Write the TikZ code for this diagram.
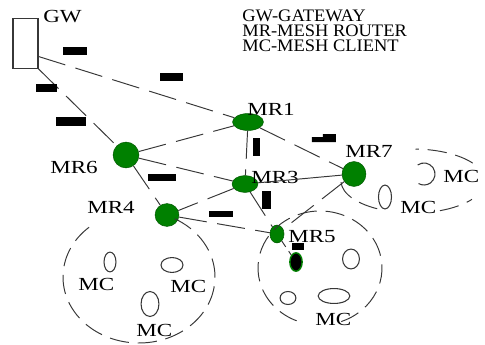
\documentclass[tikz,border=0pt]{standalone}
\usepackage{fontspec}
\setmainfont{Liberation Serif}
\newfontfamily\lblfont[FakeStretch=1.25]{Liberation Serif}
\newfontfamily\keyfont[FakeStretch=1.05]{Liberation Serif}
\usetikzlibrary{shapes.geometric}

\definecolor{mrgreen}{RGB}{0,128,0}
\definecolor{linegray}{RGB}{55,55,55}

\tikzset{
  router/.style={ellipse, fill=mrgreen, draw=mrgreen!70!black, line width=0.3pt, inner sep=0pt},
  client/.style={ellipse, draw=linegray, line width=0.6pt, inner sep=0pt},
  lbl/.style={anchor=base west, inner sep=0pt, font=\lblfont\fontsize{10.5}{12}\selectfont},
  legend/.style={anchor=base west, inner sep=0pt, font=\keyfont\fontsize{10}{12}\selectfont},
  link/.style={draw=linegray, line width=0.55pt, dash pattern=on 16pt off 6pt},
  cluster/.style={draw=linegray, line width=0.55pt, dash pattern=on 11pt off 5pt}
}

\begin{document}
\begin{tikzpicture}[x=0.02cm, y=0.02cm]
\useasboundingbox (0,0) rectangle (485,-345);

% gateway and routers
\node[rectangle, draw=linegray, line width=0.6pt, minimum width=14.2pt, minimum height=28.3pt, inner sep=0pt] (GW) at (25.5,-43.5) {};
\node[router, minimum width=17.6pt, minimum height=9.6pt] (MR1) at (248,-122) {};
\node[router, minimum width=14.7pt, minimum height=14.7pt] (MR6) at (126,-155) {};
\node[router, minimum width=14.7pt, minimum height=9.6pt] (MR3) at (245,-184) {};
\node[router, minimum width=13.6pt, minimum height=14.2pt] (MR7) at (354,-174) {};
\node[router, minimum width=13.6pt, minimum height=13pt] (MR4) at (167,-215) {};
\node[router, minimum width=8pt, minimum height=10.2pt] (MR5) at (277,-234) {};
\node[ellipse, fill=black, draw=mrgreen, line width=0.8pt, inner sep=0pt, minimum width=7pt, minimum height=10.5pt] (B) at (296,-262) {};

% clients
\node[client, minimum width=6.8pt, minimum height=11.3pt] (C1) at (110,-262) {};
\node[client, minimum width=12.5pt, minimum height=8.5pt] (C2) at (172,-265) {};
\node[client, minimum width=10.2pt, minimum height=14.2pt] (C3) at (150,-304) {};
\node[client, minimum width=9.6pt, minimum height=11.3pt] (C4) at (351,-259) {};
\node[client, minimum width=9pt, minimum height=7.4pt] (C5) at (288,-298) {};
\node[client, minimum width=18pt, minimum height=8.5pt] (C6) at (334,-296) {};
\node[client, minimum width=7.4pt, minimum height=13.6pt] (C7) at (385,-197) {};
\draw[draw=linegray, line width=0.6pt] (424,-174) ++(125:11) arc[start angle=125, end angle=-120, radius=11];

% labels
\node[lbl] (lGW) at (43,-22) {GW};
\node[lbl] (lMR1) at (247,-115) {MR1};
\node[lbl] (lMR6) at (50,-173) {MR6};
\node[lbl] (lMR3) at (251,-183) {MR3};
\node[lbl] (lMR7) at (345,-157) {MR7};
\node[lbl] (lMR4) at (87,-213) {MR4};
\node[lbl] (lMR5) at (288,-242) {MR5};
\node[lbl] (lC1) at (78,-290) {MC};
\node[lbl] (lC2) at (170,-293) {MC};
\node[lbl] (lC3) at (136,-337) {MC};
\node[lbl] (lC4) at (315,-325) {MC};
\node[lbl] (lC5) at (443,-182) {MC};
\node[lbl] (lC6) at (400,-213) {MC};

% legend
\node[legend] (key1) at (242,-21) {GW-GATEWAY};
\node[legend] (key2) at (242,-36) {MR-MESH ROUTER};
\node[legend] (key3) at (242,-51) {MC-MESH CLIENT};

% links
\draw[link] (GW.-45) -- (MR1);
\draw[link] (GW.south east) -- (MR6);
\draw[link] (MR6) -- (MR1);
\draw[link] (MR6) -- (MR3);
\draw[link] (MR6) -- (MR4);
\draw[link] (MR1) -- (MR3);
\draw[link] (MR1) -- (MR7);
\draw[draw=linegray, line width=0.55pt] (MR3) -- (MR7);
\draw[link] (MR3) -- (MR4);
\draw[link] (MR4) -- (MR5);
\draw[link] (MR3) -- (MR5);
\draw[link] (MR7) -- (MR5);
\draw[link, dash pattern=on 4pt off 3pt] (MR5) -- (B);

% clusters
\draw[cluster] (139,-277) ++(131:76 and 66) arc[start angle=131, end angle=428, x radius=76, y radius=66];
\draw[cluster] (320,-268) ++(-70:62 and 57) arc[start angle=-70, end angle=252, x radius=62, y radius=57];
\draw[cluster] (413,-181) ++(34:72 and 32) arc[start angle=34, end angle=88, x radius=72, y radius=32];
\draw[cluster] (413,-181) ++(-178:72 and 32) arc[start angle=-178, end angle=-115, x radius=72, y radius=32];
\draw[cluster] (413,-181) ++(-68:72 and 32) arc[start angle=-68, end angle=-35, x radius=72, y radius=32];

% black bars
\fill (63,-47) rectangle (87,-55);
\fill (160,-73) rectangle (183,-81);
\fill (36,-84) rectangle (57,-92);
\fill (56,-117) rectangle (86,-126);
\fill (253,-138) rectangle (260,-156);
\fill (148,-174) rectangle (176,-181);
\fill (209,-211) rectangle (233,-217);
\fill (262,-191) rectangle (271,-209);
\fill (292,-243) rectangle (304,-250);
\fill (312,-137) -- (323,-137) -- (323,-134) -- (336,-134) -- (336,-142) -- (312,-142) -- cycle;
\end{tikzpicture}
\end{document}
